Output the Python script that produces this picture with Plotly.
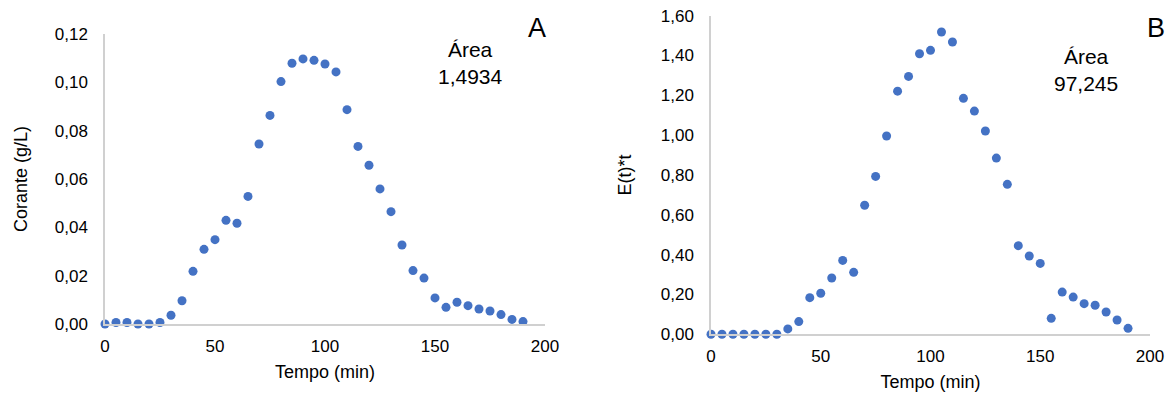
import plotly.graph_objects as go

# ---- data ----
tempo = [0, 5, 10, 15, 20, 25, 30, 35, 40, 45, 50, 55, 60, 65, 70, 75, 80, 85, 90, 95,
         100, 105, 110, 115, 120, 125, 130, 135, 140, 145, 150, 155, 160, 165, 170, 175,
         180, 185, 190]
corante = [0.0000, 0.0006, 0.0006, 0.0000, 0.0000, 0.0006, 0.0036, 0.0096, 0.0218, 0.0309,
           0.0349, 0.0429, 0.0417, 0.0528, 0.0745, 0.0863, 0.1003, 0.1079, 0.1097, 0.1091,
           0.1076, 0.1043, 0.0887, 0.0735, 0.0657, 0.0559, 0.0465, 0.0327, 0.0221, 0.0190,
           0.0108, 0.0069, 0.0090, 0.0076, 0.0062, 0.0054, 0.0039, 0.0019, 0.0010]
et_t = [0.000, 0.000, 0.000, 0.000, 0.000, 0.000, 0.000, 0.027, 0.064, 0.184,
        0.206, 0.283, 0.371, 0.311, 0.648, 0.793, 0.996, 1.221, 1.295, 1.409,
        1.426, 1.518, 1.468, 1.185, 1.121, 1.021, 0.885, 0.753, 0.445, 0.393,
        0.356, 0.080, 0.212, 0.187, 0.154, 0.146, 0.112, 0.072, 0.030]
x_ticks = [0, 50, 100, 150, 200]
yA_ticks = [0, 0.02, 0.04, 0.06, 0.08, 0.10, 0.12]
yB_ticks = [0, 0.2, 0.4, 0.6, 0.8, 1.0, 1.2, 1.4, 1.6]
area_A = "Área<br>1,4934"
area_B = "Área<br>97,245"

W, H = 1174, 394
FONT = "Liberation Sans, Arial, sans-serif"
BLUE = "#4472C4"
AXC = "#D0D0D0"


def px(x):
    return x / W


def py(y):
    return 1 - y / H


fig = go.Figure()
fig.add_trace(go.Scatter(x=tempo, y=corante, mode="markers", xaxis="x", yaxis="y",
                         marker=dict(color=BLUE, size=9), cliponaxis=False, showlegend=False))
fig.add_trace(go.Scatter(x=tempo, y=et_t, mode="markers", xaxis="x2", yaxis="y2",
                         marker=dict(color=BLUE, size=9), cliponaxis=False, showlegend=False))

tickfont = dict(family=FONT, size=17, color="#000000")
common_x = dict(range=[0, 200], tickvals=x_ticks, showgrid=False, zeroline=False,
                showline=True, linecolor=AXC, linewidth=1.5, ticks="", automargin=False,
                tickfont=tickfont, ticklabelstandoff=6)
common_y = dict(showgrid=False, zeroline=False, showline=True, linecolor=AXC,
                linewidth=1.5, ticks="", tickfont=tickfont, tickformat=".2f",
                automargin=False, ticklabelstandoff=12)

fig.update_layout(
    width=W, height=H,
    margin=dict(l=0, r=0, t=0, b=0, pad=0, autoexpand=False),
    paper_bgcolor="white", plot_bgcolor="white",
    separators=",.",
    font=dict(family=FONT, size=17, color="#000000"),
    xaxis=dict(domain=[px(105), px(545)], anchor="y", **common_x,
               title=dict(text="Tempo (min)", font=dict(size=18), standoff=10)),
    yaxis=dict(domain=[py(324), py(34)], anchor="x", range=[0, 0.12], tickvals=yA_ticks,
               **common_y,
               title=dict(text="Corante (g/L)", font=dict(size=18), standoff=22)),
    xaxis2=dict(domain=[px(711), px(1150)], anchor="y2", **common_x,
                title=dict(text="Tempo (min)", font=dict(size=18), standoff=10)),
    yaxis2=dict(domain=[py(334.3), py(15.7)], anchor="x2", range=[0, 1.6], tickvals=yB_ticks,
                **common_y,
                title=dict(text="E(t)*t", font=dict(size=18), standoff=24)),
)

anns = [
    dict(text=area_A, x=px(470), y=py(63), size=21),
    dict(text="A", x=px(537), y=py(28), size=27),
    dict(text=area_B, x=px(1086), y=py(70), size=21),
    dict(text="B", x=px(1156), y=py(28), size=27),
]
for a in anns:
    fig.add_annotation(text=a["text"], x=a["x"], y=a["y"], xref="paper", yref="paper",
                       showarrow=False, xanchor="center", yanchor="middle",
                       font=dict(family=FONT, size=a["size"], color="#000000"))

fig.write_html("out.html", config={"displayModeBar": False},
               post_script="document.body.style.margin='0';document.body.style.overflow='hidden';")
